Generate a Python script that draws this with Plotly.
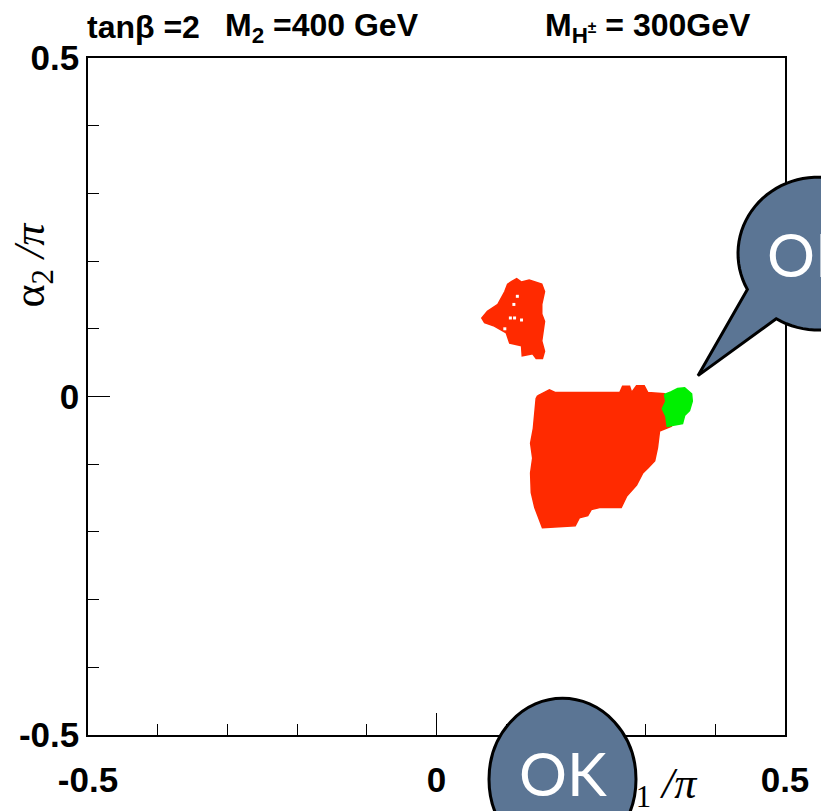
import math
import plotly.graph_objects as go

# ---------------- data (alpha1/pi, alpha2/pi) ----------------
tri_x = [0.108, 0.115, 0.122, 0.133, 0.151, 0.155, 0.151, 0.151, 0.155, 0.151, 0.155, 0.152,
         0.143, 0.138, 0.123, 0.122, 0.105, 0.100, 0.083, 0.069, 0.065, 0.073, 0.088, 0.098, 0.102]
tri_y = [0.170, 0.174, 0.169, 0.172, 0.166, 0.155, 0.136, 0.122, 0.111, 0.082, 0.067, 0.056,
         0.056, 0.063, 0.060, 0.075, 0.079, 0.094, 0.104, 0.109, 0.116, 0.126, 0.136, 0.155, 0.166]

# small unfilled gaps inside the upper island
hole_x = [0.116, 0.111, 0.106, 0.112, 0.122, 0.098]
hole_y = [0.148, 0.136, 0.116, 0.116, 0.113, 0.100]

main_x = [0.145, 0.155, 0.162, 0.170, 0.263, 0.267, 0.277, 0.280, 0.287, 0.298, 0.303, 0.327,
          0.334, 0.337, 0.320, 0.317, 0.313, 0.303, 0.296, 0.287, 0.273, 0.265, 0.253, 0.234,
          0.222, 0.217, 0.205, 0.199, 0.152, 0.148, 0.141, 0.136, 0.135, 0.138, 0.135, 0.139,
          0.142, 0.143]
main_y = [0.001, 0.007, 0.010, 0.006, 0.006, 0.015, 0.015, 0.006, 0.016, 0.016, 0.006, 0.004,
          -0.003, -0.044, -0.051, -0.076, -0.095, -0.106, -0.113, -0.131, -0.147, -0.164, -0.164, -0.164,
          -0.167, -0.176, -0.179, -0.191, -0.194, -0.182, -0.164, -0.142, -0.113, -0.091, -0.069, -0.047,
          -0.021, -0.003]

ok_x = [0.327, 0.337, 0.346, 0.356, 0.366, 0.367, 0.363, 0.356, 0.353, 0.331, 0.329, 0.324, 0.329]
ok_y = [0.003, 0.007, 0.012, 0.013, 0.004, -0.007, -0.021, -0.028, -0.040, -0.044, -0.029, -0.018, -0.007]

major_ticks = [-0.5, 0, 0.5]
major_labels = ["-0.5", "0", "0.5"]

title_parts = ["tanβ =2", "M<sub>2</sub> =400 GeV", "M<sub>H<sup>±</sup></sub> = 300GeV"]
x_title = "α<sub>1</sub> <i>/π</i>"
y_title = "α<sub>2</sub> <i>/π</i>"

RED = "#ff2a00"
GREEN = "#00f000"
BUBBLE = "#5b7594"

W, H = 821, 811
L, R, T, B = 88, 36, 58, 71
PW, PH = W - L - R, H - T - B


def P(px, py):
    """pixel position -> paper coordinates"""
    return ((px - L) / PW, (H - B - py) / PH)


fig = go.Figure()
for xs, ys, col in [(tri_x, tri_y, RED), (main_x, main_y, RED), (ok_x, ok_y, GREEN)]:
    fig.add_trace(go.Scatter(x=xs + [xs[0]], y=ys + [ys[0]], mode="lines", fill="toself",
                             fillcolor=col, line=dict(color=col, width=1.5),
                             hoverinfo="skip", showlegend=False))

fig.add_trace(go.Scatter(x=hole_x, y=hole_y, mode="markers",
                         marker=dict(symbol="square", size=3, color="white"),
                         hoverinfo="skip", showlegend=False))

# x-axis title: text hung below an invisible marker on the bottom edge, so that it
# lives in the plot layer and the speech bubble (shape above) can overlap it
fig.add_trace(go.Scatter(x=[(655 - 437) / 697], y=[-0.4995], mode="markers+text",
                         marker=dict(size=47, opacity=0, color="white"),
                         text=[x_title], textposition="bottom center",
                         textfont=dict(family="Liberation Serif", size=44, color="black"),
                         cliponaxis=False, hoverinfo="skip", showlegend=False))

axis_common = dict(range=[-0.5, 0.5], showgrid=False, zeroline=False,
                   showline=True, linecolor="black", linewidth=1.5, mirror=True,
                   ticks="inside", ticklen=22, tickwidth=1.2, tickcolor="black",
                   tickvals=major_ticks, ticktext=major_labels,
                   tickfont=dict(family="Liberation Sans", size=35, color="black", weight="bold"),
                   minor=dict(dtick=0.1, ticks="inside", ticklen=11, tickwidth=1.2, tickcolor="black"))

fig.update_layout(
    width=W, height=H, margin=dict(l=L, r=R, t=T, b=B, pad=0),
    plot_bgcolor="white", paper_bgcolor="white",
    xaxis=dict(**axis_common, ticklabelstandoff=13),
    yaxis=dict(**axis_common, ticklabelstandoff=0),
)

# title pieces
for txt, px, anchor in [(title_parts[0], 85, "left"), (title_parts[1], 322, "center"),
                        (title_parts[2], 648, "center")]:
    X, Y = P(px, 27)
    fig.add_annotation(x=X, y=Y, xref="paper", yref="paper", xanchor=anchor, yanchor="middle",
                       text="<b>" + txt + "</b>", showarrow=False,
                       font=dict(family="Liberation Sans", size=32, color="black"))

# y-axis title
X, Y = P(32, 266)
fig.add_annotation(x=X, y=Y, xref="paper", yref="paper", textangle=-90,
                   xanchor="center", yanchor="middle",
                   text=y_title, showarrow=False,
                   font=dict(family="Liberation Serif", size=44, color="black"))

# ---------------- speech bubbles ----------------
x0, y0 = P(489, 866)
x1, y1 = P(636, 703)
fig.add_shape(type="circle", xref="paper", yref="paper", x0=x0, y0=y0, x1=x1, y1=y1,
              fillcolor=BUBBLE, line=dict(color="black", width=3), layer="above")

cx, cy, rx, ry = 818, 255, 80, 77
aA, aB = 152.0, 121.5
tip = (698, 378)
pts = []
n = 80
for i in range(n + 1):
    a = math.radians(aA + (aB + 360 - aA) * i / n)
    pts.append((cx + rx * math.cos(a), cy + ry * math.sin(a)))
pts.append(tip)
path = ""
for i, (px, py) in enumerate(pts):
    X, Y = P(px, py)
    path += ("M" if i == 0 else "L") + f"{X:.5f},{Y:.5f} "
path += "Z"
fig.add_shape(type="path", xref="paper", yref="paper", path=path,
              fillcolor=BUBBLE, line=dict(color="black", width=3), layer="above")

for (px, py) in [(811, 255), (563, 778)]:
    X, Y = P(px, py)
    fig.add_annotation(x=X, y=Y, xref="paper", yref="paper", text="OK", showarrow=False,
                       xanchor="center", yanchor="middle",
                       font=dict(family="Lato", size=60, color="white"))

fig.write_html("out.html")
